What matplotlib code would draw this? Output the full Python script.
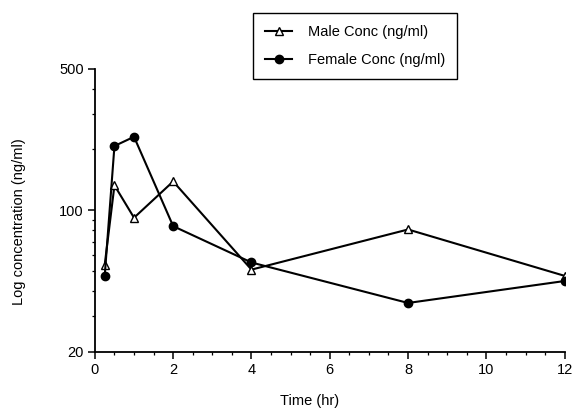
import matplotlib
matplotlib.use("Agg")
import matplotlib.pyplot as plt
from matplotlib.ticker import FixedLocator, NullFormatter, MultipleLocator

plt.rcParams['font.family'] = ['Liberation Sans', 'DejaVu Sans']

# data
time_hr = [0.25, 0.5, 1, 2, 4, 8, 12]
male_conc = [53.6, 133, 92, 139, 51, 80.5, 47.5]
female_conc = [47.2, 208, 231, 83.6, 55.3, 34.9, 44.8]

y_ticks = [20, 100, 500]
y_minor = [30, 40, 50, 60, 70, 80, 90, 200, 300, 400]
x_ticks = [0, 2, 4, 6, 8, 10, 12]

fig = plt.figure(figsize=(5.75, 4.15), dpi=100)
ax = fig.add_axes([0.165, 0.152, 0.817, 0.682])

ax.plot(time_hr, male_conc, color='black', lw=1.5, marker='^', ms=5.5,
        mfc='white', mec='black', mew=1.0, label='Male Conc (ng/ml)')
ax.plot(time_hr, female_conc, color='black', lw=1.5, marker='o', ms=6,
        mfc='black', mec='black', label='Female Conc (ng/ml)')

ax.set_yscale('log')
ax.set_ylim(20, 500)
ax.set_xlim(0, 12)

ax.yaxis.set_major_locator(FixedLocator(y_ticks))
ax.yaxis.set_minor_locator(FixedLocator(y_minor))
ax.yaxis.set_minor_formatter(NullFormatter())
ax.set_yticklabels([str(t) for t in y_ticks])
ax.xaxis.set_major_locator(FixedLocator(x_ticks))
ax.xaxis.set_minor_locator(MultipleLocator(0.5))

ax.spines['top'].set_visible(False)
ax.spines['right'].set_visible(False)
ax.spines['left'].set_linewidth(1.3)
ax.spines['bottom'].set_linewidth(1.3)

ax.tick_params(which='major', direction='out', length=5, width=1.1, labelsize=10.5, pad=3)
ax.tick_params(which='minor', direction='out', length=2.5, width=0.9)

ax.set_xlabel('Time (hr)', fontsize=10.5)
ax.set_ylabel('Log concentration (ng/ml)', fontsize=10.5)
ax.xaxis.set_label_coords(0.457, -0.15)
ax.yaxis.set_label_coords(-0.147, 0.46)

fig.legend(loc='upper left', bbox_to_anchor=(253 / 575, 1 - 13 / 415),
           fontsize=10.5, frameon=True, fancybox=False, edgecolor='black',
           framealpha=1, borderaxespad=0, handlelength=1.9, handletextpad=1.1,
           labelspacing=1.0, borderpad=0.8)

fig.savefig('out.png', dpi=100)
